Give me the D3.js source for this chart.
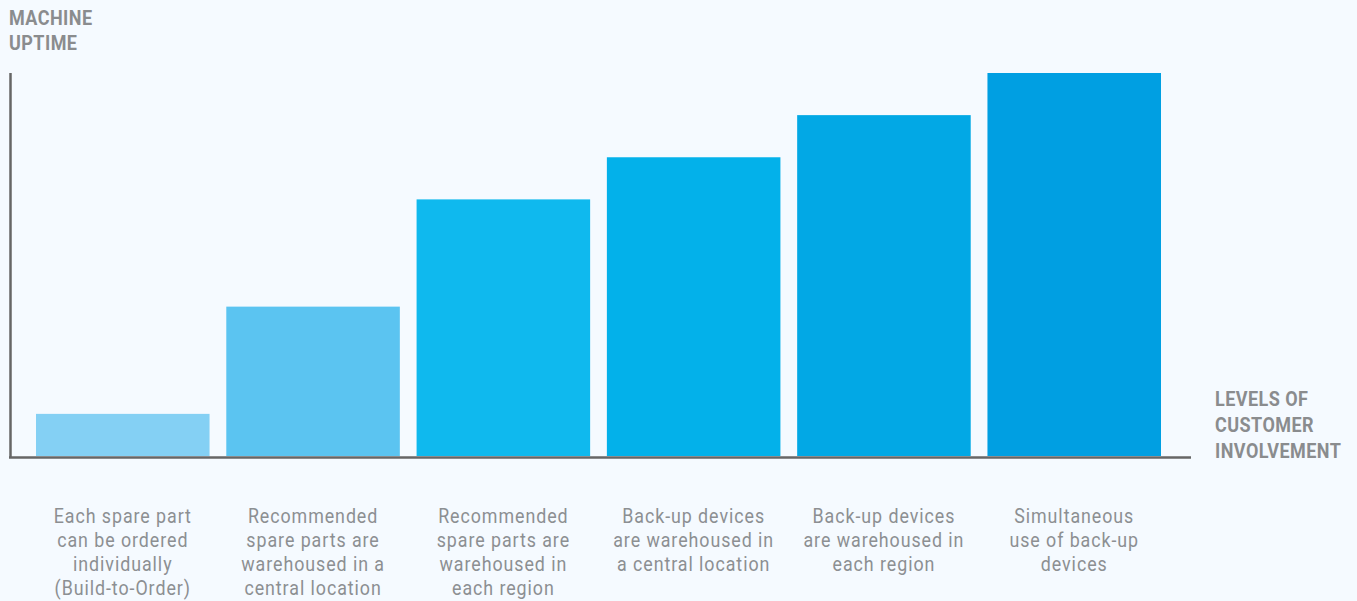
<!DOCTYPE html>
<html>
<head>
<meta charset="utf-8">
<script src="https://cdn.jsdelivr.net/npm/d3@7"></script>
<style>
  body { margin: 0; background: #f5faff; }
  svg { display: block; }
  text { font-family: "Roboto", "Liberation Sans", sans-serif; }
</style>
</head>
<body>
<script>
// ----------------------------------------
//  Data
// ----------------------------------------

var categories = [
  ["Each spare part", "can be ordered", "individually", "(Build-to-Order)"],
  ["Recommended", "spare parts are", "warehoused in a", "central location"],
  ["Recommended", "spare parts are", "warehoused in", "each region"],
  ["Back-up devices", "are warehoused in", "a central location"],
  ["Back-up devices", "are warehoused in", "each region"],
  ["Simultaneous", "use of back-up", "devices"]
];
var uptime = [11, 39, 67, 78, 89, 100];
var barColors = ["#84d0f4", "#5bc4f1", "#0fb9ee", "#03b1ea", "#02a8e5", "#009fe2"];
var yTitle = ["MACHINE", "UPTIME"];
var xTitle = ["LEVELS OF", "CUSTOMER", "INVOLVEMENT"];

var W = 1357, H = 601;

var svg = d3.select("body").append("svg")
    .attr("width", W)
    .attr("height", H);

// ----------------------------------------
//  Scales
// ----------------------------------------

var x = d3.scaleBand()
    .domain(d3.range(uptime.length))
    .range([36, 1161])
    .paddingInner(0.088)
    .paddingOuter(0);

var y = d3.scaleLinear()
    .domain([0, 100])
    .range([456, 73]);

// bars
svg.selectAll(".bar")
    .data(uptime)
    .enter()
    .append("rect")
    .attr("class", "bar")
    .attr("x", function(d, i) { return x(i); })
    .attr("width", x.bandwidth())
    .attr("y", function(d) { return y(d); })
    .attr("height", function(d) { return y(0) - y(d); })
    .attr("fill", function(d, i) { return barColors[i]; });

// axes (plain lines, no ticks)
svg.append("line")
    .attr("x1", 10.5).attr("x2", 10.5)
    .attr("y1", 73).attr("y2", 458)
    .attr("stroke", "#666").attr("stroke-width", 2.5);

svg.append("line")
    .attr("x1", 9).attr("x2", 1191)
    .attr("y1", 457.5).attr("y2", 457.5)
    .attr("stroke", "#666").attr("stroke-width", 2.5);

// category labels, squeezed to look like a condensed face
var lab = svg.selectAll(".lab")
    .data(categories)
    .enter()
    .append("text")
    .attr("class", "lab")
    .attr("text-anchor", "middle")
    .attr("transform", function(d, i) {
      return "translate(" + (x(i) + x.bandwidth() / 2) + ",0) scale(0.85,1)";
    })
    .attr("fill", "#8c8f92")
    .style("font-size", "21px")
    .style("letter-spacing", "1.1px");

lab.selectAll("tspan")
    .data(function(d) { return d; })
    .enter()
    .append("tspan")
    .attr("x", 0)
    .attr("y", function(d, j) { return 523 + j * 24; })
    .text(function(d) { return d; });

// axis titles
svg.selectAll(".ytitle")
    .data(yTitle)
    .enter()
    .append("text")
    .attr("transform", "translate(9,0) scale(0.9,1)")
    .attr("y", function(d, i) { return 25 + i * 25; })
    .attr("fill", "#8a8c8e")
    .style("font-size", "20px")
    .style("font-weight", "bold")
    .style("letter-spacing", "0.5px")
    .text(function(d) { return d; });

svg.selectAll(".xtitle")
    .data(xTitle)
    .enter()
    .append("text")
    .attr("transform", "translate(1215,0) scale(0.9,1)")
    .attr("y", function(d, i) { return 406 + i * 26; })
    .attr("fill", "#8a8c8e")
    .style("font-size", "20px")
    .style("font-weight", "bold")
    .style("letter-spacing", "0.5px")
    .text(function(d) { return d; });
</script>
</body>
</html>
